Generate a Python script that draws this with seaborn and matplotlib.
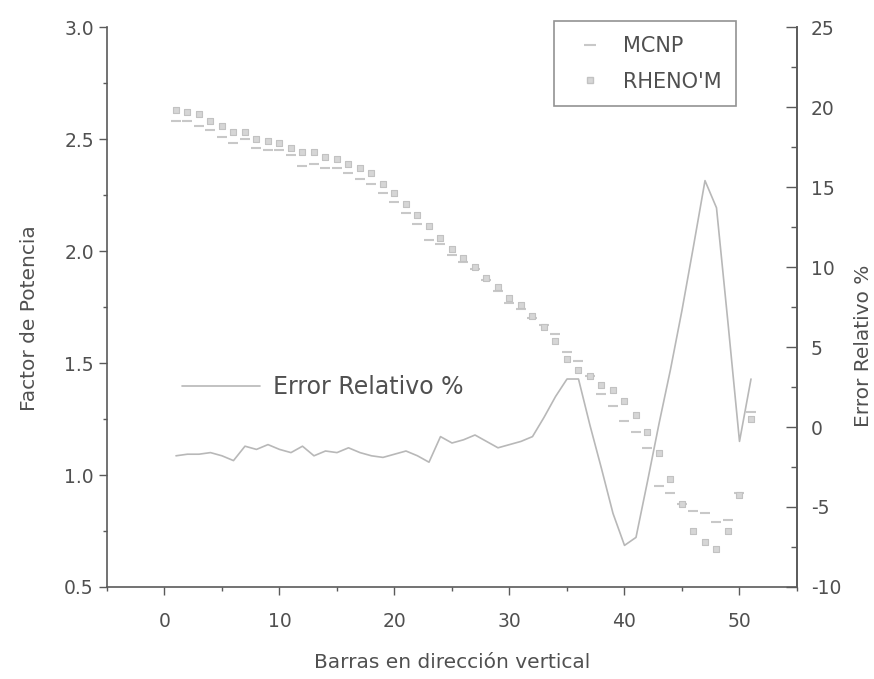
import matplotlib
matplotlib.use("Agg")
import matplotlib.pyplot as plt
from matplotlib.lines import Line2D
from matplotlib.ticker import MultipleLocator
import seaborn as sns
import pandas as pd

bars = [1, 2, 3, 4, 5, 6, 7, 8, 9, 10, 11, 12, 13, 14, 15, 16, 17, 18, 19, 20,
        21, 22, 23, 24, 25, 26, 27, 28, 29, 30, 31, 32, 33, 34, 35, 36, 37, 38, 39, 40,
        41, 42, 43, 44, 45, 46, 47, 48, 49, 50, 51]

rhenom = [2.63, 2.62, 2.61, 2.58, 2.56, 2.53, 2.53, 2.50, 2.49, 2.48,
          2.46, 2.44, 2.44, 2.42, 2.41, 2.39, 2.37, 2.35, 2.30, 2.26,
          2.21, 2.16, 2.11, 2.06, 2.01, 1.97, 1.93, 1.88, 1.84, 1.79,
          1.76, 1.71, 1.66, 1.60, 1.52, 1.47, 1.44, 1.40, 1.38, 1.33,
          1.27, 1.19, 1.10, 0.98, 0.87, 0.75, 0.70, 0.67, 0.75, 0.91, 1.25]

mcnp = [2.58, 2.58, 2.56, 2.54, 2.51, 2.48, 2.50, 2.46, 2.45, 2.45,
        2.43, 2.38, 2.39, 2.37, 2.37, 2.35, 2.32, 2.30, 2.26, 2.22,
        2.17, 2.12, 2.05, 2.03, 1.98, 1.95, 1.92, 1.87, 1.82, 1.77,
        1.74, 1.70, 1.67, 1.63, 1.55, 1.51, 1.44, 1.36, 1.31, 1.24,
        1.19, 1.12, 0.95, 0.92, 0.87, 0.84, 0.83, 0.79, 0.80, 0.92, 1.28]

error_rel = [-1.8, -1.7, -1.7, -1.6, -1.8, -2.1, -1.2, -1.4, -1.1, -1.4,
             -1.6, -1.2, -1.8, -1.5, -1.6, -1.3, -1.6, -1.8, -1.9, -1.7,
             -1.5, -1.8, -2.2, -0.6, -1.0, -0.8, -0.5, -0.9, -1.3, -1.1,
             -0.9, -0.6, 0.6, 1.9, 3.0, 3.0, 0.1, -2.6, -5.4, -7.4,
             -6.9, -3.4, 0.2, 3.6, 7.3, 11.3, 15.4, 13.7, 6.5, -0.9, 3.0]

df = pd.DataFrame({"bar": bars, "MCNP": mcnp, "RHENO'M": rhenom, "err": error_rel})

sns.set_theme(style="white")
plt.rcParams["font.family"] = ["DejaVu Sans"]

TXT = "#505050"
AX = "#5a5a5a"
MARK = "#c8c8c8"
LINE = "#b8b8b8"

fig = plt.figure(figsize=(8.74, 6.79), dpi=100)
ax = fig.add_axes([0.1224, 0.1355, 0.7895, 0.8247])

sns.scatterplot(data=df, x="bar", y="MCNP", ax=ax, marker="_", s=50,
                color=MARK, linewidth=1.5, legend=False)
sns.scatterplot(data=df, x="bar", y="RHENO'M", ax=ax, marker="s", s=20,
                color="#d6d6d6", edgecolor="#c2c2c2", linewidth=0.8, legend=False)

ax.set_xlim(-5, 55)
ax.set_ylim(0.5, 3.0)
ax.xaxis.set_minor_locator(MultipleLocator(5))
ax.yaxis.set_minor_locator(MultipleLocator(0.25))
ax.set_xticks([0, 10, 20, 30, 40, 50])
ax.set_xticklabels(["0", "10", "20", "30", "40", "50"])
ax.set_yticks([0.5, 1.0, 1.5, 2.0, 2.5, 3.0])
ax.set_yticklabels(["0.5", "1.0", "1.5", "2.0", "2.5", "3.0"])
ax.tick_params(axis="both", which="major", direction="out", length=6, width=1,
               color=AX, labelsize=13.5, labelcolor=TXT, bottom=True, left=True)
ax.tick_params(axis="x", which="major", pad=12)
ax.tick_params(axis="both", which="minor", direction="out", length=3, width=1,
               color=AX, bottom=True, left=True)
ax.set_xlabel("Barras en dirección vertical", fontsize=14.5, color=TXT)
ax.set_ylabel("Factor de Potencia", fontsize=14.5, color=TXT)
ax.xaxis.set_label_coords(0.5, -0.118)
ax.yaxis.set_label_coords(-0.098, 0.48)
for side in ["left", "bottom", "right"]:
    ax.spines[side].set_color(AX)
    ax.spines[side].set_linewidth(1.2)
ax.spines["top"].set_visible(False)

ax2 = ax.twinx()
sns.lineplot(data=df, x="bar", y="err", ax=ax2, color=LINE, linewidth=1.2, legend=False)
ax2.set_ylim(-10, 25)
ax2.set_yticks([-10, -5, 0, 5, 10, 15, 20, 25])
ax2.set_yticklabels(["-10", "-5", "0", "5", "10", "15", "20", "25"])
ax2.yaxis.set_minor_locator(MultipleLocator(2.5))
ax2.tick_params(axis="y", which="major", direction="in", length=8, width=1,
                color=AX, labelsize=13.5, labelcolor=TXT, right=True, pad=10)
ax2.tick_params(axis="y", which="minor", direction="in", length=4, width=1,
                color=AX, right=True)
ax2.set_ylabel("Error Relativo %", fontsize=14.5, color=TXT)
ax2.yaxis.set_label_coords(1.083, 0.43)
ax2.spines["top"].set_visible(False)
ax2.spines["right"].set_color(AX)
ax2.spines["right"].set_linewidth(1.2)
ax2.spines["left"].set_visible(False)
ax2.spines["bottom"].set_visible(False)

handles = [Line2D([], [], color=MARK, marker="_", linestyle="none", markersize=8, markeredgewidth=1.5),
           Line2D([], [], color="#d6d6d6", marker="s", markeredgecolor="#c2c2c2",
                  linestyle="none", markersize=5)]
leg = ax2.legend(handles, ["MCNP", "RHENO'M"], loc="upper right",
                 bbox_to_anchor=(0.912, 1.01), frameon=True, fancybox=False,
                 fontsize=15, handlelength=2.0, borderpad=0.7, labelspacing=0.75,
                 handletextpad=0.6, borderaxespad=0)
leg.get_frame().set_edgecolor("#777777")
leg.get_frame().set_linewidth(1.2)
for t in leg.get_texts():
    t.set_color(TXT)

leg2 = ax.legend([Line2D([], [], color=LINE, linewidth=1.2)], ["Error Relativo %"],
                 loc="center left", bbox_to_anchor=(0.095, 0.357), frameon=False,
                 fontsize=17, handlelength=3.3, handletextpad=0.55, borderaxespad=0)
for t in leg2.get_texts():
    t.set_color(TXT)

fig.savefig("out.png", dpi=100, facecolor="white")
